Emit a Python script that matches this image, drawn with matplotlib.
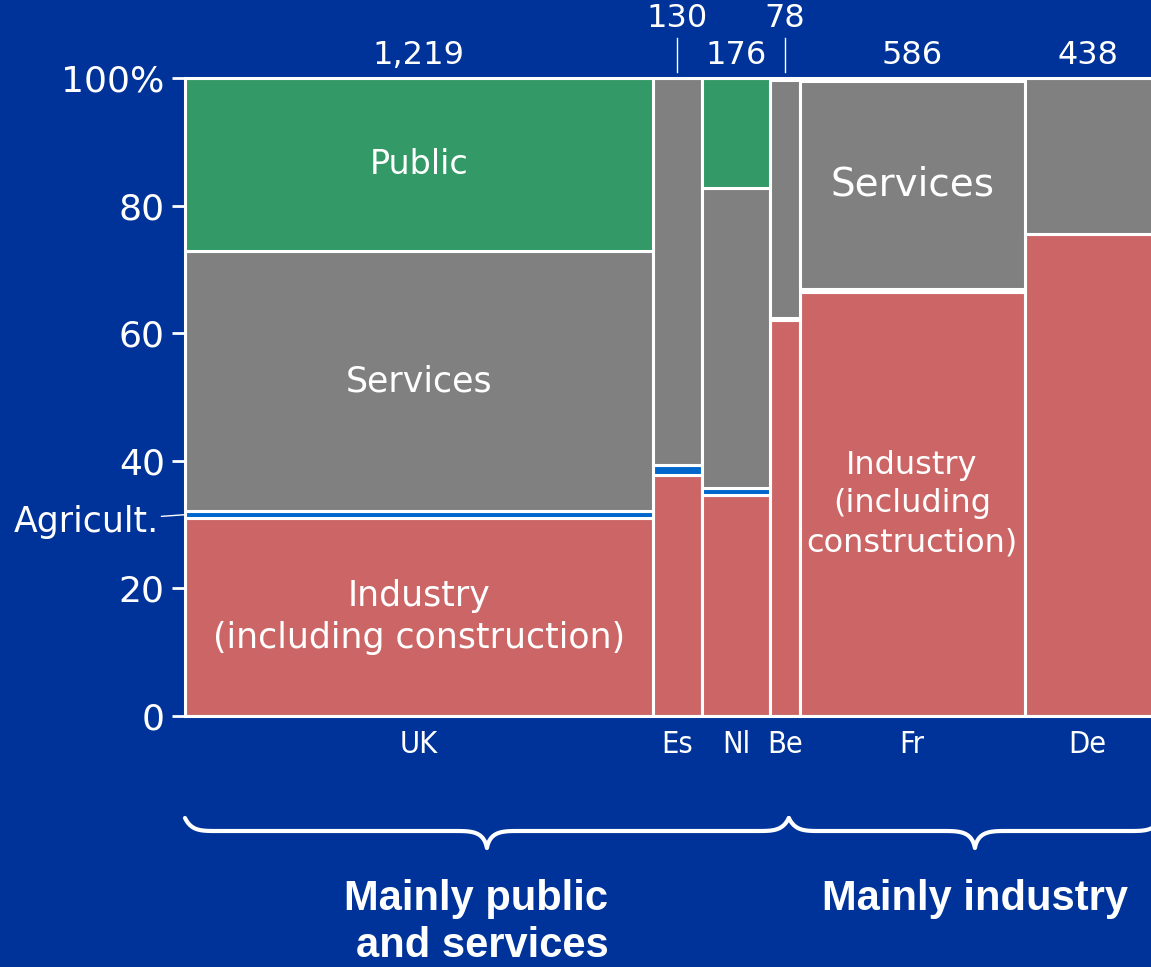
import matplotlib
matplotlib.use('Agg')
import matplotlib.pyplot as plt
from matplotlib.lines import Line2D
import numpy as np

# ---------------- data ----------------
countries = ['UK', 'Es', 'Nl', 'Be', 'Fr', 'De']
totals = [1219, 130, 176, 78, 586, 438]
total_labels = ['1,219', '130', '176', '78', '586', '438']
industry = [31.0, 37.7, 34.6, 62.1, 66.5, 75.5]
agriculture = [1.1, 1.7, 1.1, 0.3, 0.4, 0.0]
services = [40.8, 60.6, 47.1, 37.3, 32.7, 24.5]
public = [27.1, 0.0, 17.2, 0.0, 0.0, 0.0]
yticks = [0, 20, 40, 60, 80, 100]
ytick_labels = ['0', '20', '40', '60', '80', '100%']
group_labels = ['Mainly public', 'and services', 'Mainly industry']

# ---------------- style ----------------
BG = '#003399'
C_IND = '#CC6666'
C_AGR = '#0066CC'
C_SER = '#808080'
C_PUB = '#339966'
W, H = 1151, 967

fig = plt.figure(figsize=(W / 100, H / 100), dpi=100, facecolor=BG)
ax = fig.add_axes([185 / W, 251 / H, 1007.5 / W, 638 / H])
ax.set_facecolor(BG)

widths = np.array(totals, dtype=float)
lefts = np.concatenate([[0], np.cumsum(widths)[:-1]])
centers = lefts + widths / 2
ax.set_xlim(0, widths.sum())
ax.set_ylim(0, 100)

segments = [industry, agriculture, services, public]
colors = [C_IND, C_AGR, C_SER, C_PUB]
bottoms = np.zeros(len(countries))
for seg, col in zip(segments, colors):
    seg = np.array(seg, dtype=float)
    for i in range(len(countries)):
        if seg[i] > 0:
            ax.bar(lefts[i], seg[i], width=widths[i], bottom=bottoms[i], align='edge',
                   color=col, edgecolor='white', linewidth=2.2)
    bottoms += seg

# axes styling
ax.spines['right'].set_visible(False)
for s in ['left', 'bottom', 'top']:
    ax.spines[s].set_color('white')
    ax.spines[s].set_linewidth(2.2)
ax.set_yticks(yticks)
ax.set_yticklabels(ytick_labels)
ax.tick_params(axis='y', colors='white', length=9.5, width=2, pad=5, labelsize=26)

# visible right edge (axes extends past the figure)
x_vis = ax.transData.inverted().transform(fig.transFigure.transform((1, 0)))[0]
label_x = centers.copy()
label_x[-1] = (lefts[-1] + x_vis) / 2
ax.set_xticks(label_x)
ax.set_xticklabels(countries)
ax.tick_params(axis='x', colors='white', length=0, pad=10)
for t in ax.get_xticklabels():
    t.set_fontsize(22)
    t.set_fontstretch('condensed')

# totals above the columns
raised = [False, True, False, True, False, False]
for i, lab in enumerate(total_labels):
    y = 109.3 if raised[i] else 103.6
    ax.text(label_x[i], y, lab, color='white', fontsize=23, ha='center', va='center',
            clip_on=False)
    if raised[i]:
        ax.plot([centers[i], centers[i]], [100.9, 106.3], color='white', lw=1,
                clip_on=False)

# segment labels
uk = 0
fr = 4
ax.text(centers[uk], industry[uk] + agriculture[uk] + services[uk] + public[uk] / 2,
        'Public', color='white', fontsize=24, ha='center', va='center')
ax.text(centers[uk], industry[uk] + agriculture[uk] + services[uk] / 2,
        'Services', color='white', fontsize=25, ha='center', va='center')
ax.text(centers[uk], industry[uk] / 2, 'Industry\n(including construction)',
        color='white', fontsize=25, ha='center', va='center', linespacing=1.3)
ax.text(centers[fr], industry[fr] + agriculture[fr] + services[fr] / 2,
        'Services', color='white', fontsize=28, ha='center', va='center')
ax.text(centers[fr], industry[fr] / 2, 'Industry\n(including\nconstruction)',
        color='white', fontsize=23, ha='center', va='center', linespacing=1.32)

# Agriculture leader label
ax.annotate('Agricult.', xy=(0, industry[uk] + agriculture[uk] / 2),
            xytext=(-19, -5), textcoords='offset points', color='white',
            fontsize=25, ha='right', va='center', annotation_clip=False,
            arrowprops=dict(arrowstyle='-', color='white', lw=1,
                            shrinkA=0, shrinkB=0))


# ---------------- braces ----------------
def cubic(p0, p1, p2, p3, n=30):
    t = np.linspace(0, 1, n)[:, None]
    p0, p1, p2, p3 = map(np.array, (p0, p1, p2, p3))
    return ((1 - t) ** 3) * p0 + 3 * ((1 - t) ** 2) * t * p1 + 3 * (1 - t) * t ** 2 * p2 + t ** 3 * p3


def brace(x0, x1, ytop=818, ymid=831, ytip=848, r=32):
    xm = (x0 + x1) / 2
    pts = [
        cubic((x0, ytop), (x0 + 0.2 * r, ymid), (x0 + 0.5 * r, ymid), (x0 + r, ymid)),
        cubic((xm - r, ymid), (xm - 0.5 * r, ymid), (xm - 0.1 * r, ymid), (xm, ytip)),
        cubic((xm, ytip), (xm + 0.1 * r, ymid), (xm + 0.5 * r, ymid), (xm + r, ymid)),
        cubic((x1 - r, ymid), (x1 - 0.5 * r, ymid), (x1 - 0.2 * r, ymid), (x1, ytop)),
    ]
    p = np.vstack(pts)
    fig.add_artist(Line2D(p[:, 0] / W, 1 - p[:, 1] / H, transform=fig.transFigure,
                          color='white', lw=3, solid_capstyle='round',
                          solid_joinstyle='round'))
    return xm


def to_px(x):
    return ax.transData.transform((x, 0))[0]


split = to_px(centers[3]) + 4
xm1 = brace(to_px(0), split)
xm2 = brace(split, to_px(x_vis) + 10)

bold = dict(color='white', fontsize=30, fontweight='bold', family='Liberation Sans',
            ha='center', va='center')
fig.text((xm1 - 11) / W, 1 - 899 / H, group_labels[0], **bold)
fig.text((xm1 - 5) / W, 1 - 946 / H, group_labels[1], **bold)
fig.text(xm2 / W, 1 - 899 / H, group_labels[2], **bold)

fig.savefig('out.png', dpi=100, facecolor=BG)
